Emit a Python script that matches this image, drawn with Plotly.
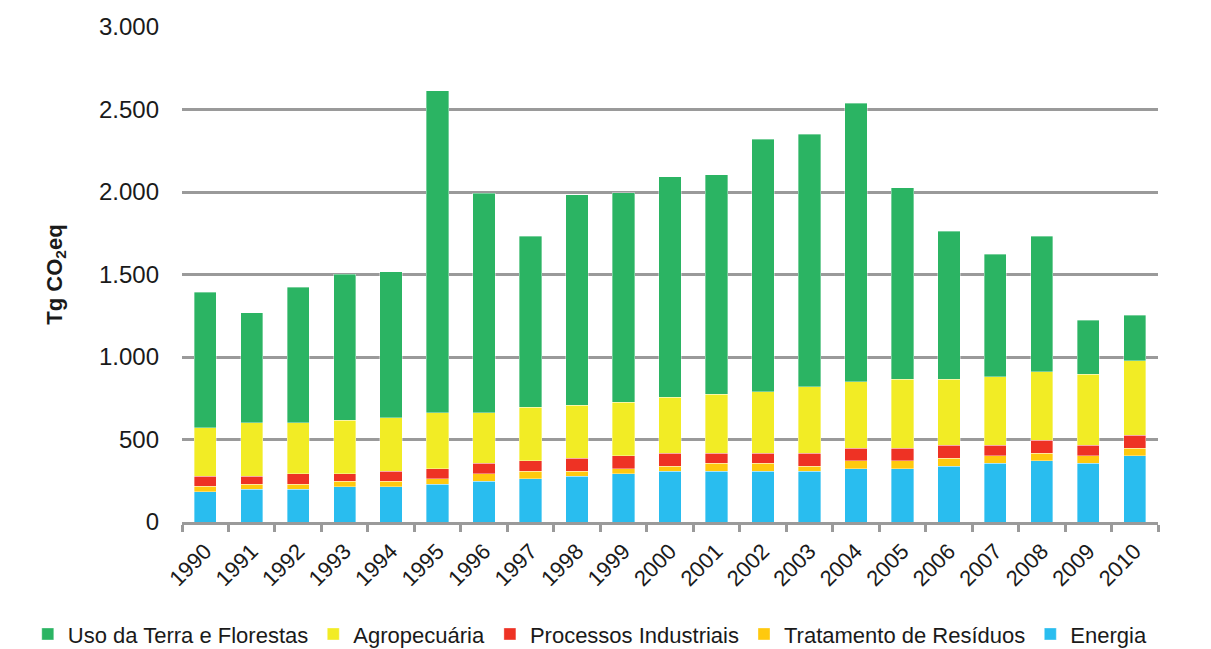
import plotly.graph_objects as go

years = [str(y) for y in range(1990, 2011)]

energia = [184, 200, 200, 214, 214, 230, 247, 261, 277, 293, 309, 309, 309, 309, 323, 323, 339, 356, 370, 356, 402]
residuos = [32, 30, 30, 33, 33, 31, 46, 48, 32, 30, 30, 47, 47, 30, 47, 47, 47, 46, 46, 46, 45]
processos = [61, 47, 63, 46, 62, 62, 63, 61, 77, 79, 77, 60, 60, 77, 77, 77, 79, 63, 79, 63, 78]
agro = [294, 325, 309, 325, 323, 339, 306, 325, 323, 323, 340, 358, 372, 404, 403, 418, 400, 416, 416, 432, 451]
uso_terra = [821, 666, 822, 883, 885, 1952, 1330, 1038, 1273, 1271, 1335, 1331, 1533, 1531, 1687, 1161, 898, 743, 822, 327, 277]

series = [
    ("Energia", energia, "#29BDEF"),
    ("Tratamento de Resíduos", residuos, "#FFC90E"),
    ("Processos Industriais", processos, "#EE3224"),
    ("Agropecuária", agro, "#F2EC25"),
    ("Uso da Terra e Florestas", uso_terra, "#2BB463"),
]

fig = go.Figure()
for name, vals, col in series:
    fig.add_trace(go.Bar(
        x=years, y=vals, name=name,
        marker=dict(color=col, line=dict(color="rgba(255,255,255,0.6)", width=0.6)),
    ))

FONT = "Arial, Liberation Sans, sans-serif"
fig.update_layout(
    barmode="stack",
    bargap=0.52,
    width=1203, height=641,
    margin=dict(l=174, r=53, t=19, b=127, autoexpand=False),
    paper_bgcolor="white", plot_bgcolor="white",
    separators=",.",
    font=dict(family=FONT, size=24, color="#1a1a1a"),
    showlegend=True,
    legend=dict(
        orientation="h", traceorder="reversed",
        x=-0.158, xanchor="left", y=-0.269, yanchor="bottom",
        font=dict(size=22, family=FONT, color="#1a1a1a"),
        itemwidth=30, tracegroupgap=0,
        bgcolor="rgba(0,0,0,0)",
    ),
    xaxis=dict(
        type="category", automargin=False,
        showline=True, linecolor="#9a9a9a", linewidth=2.5,
        ticks="outside", ticklen=7, tickwidth=2.5, tickcolor="#9a9a9a",
        tickson="boundaries",
        tickangle=-45, ticklabelstandoff=5,
        tickfont=dict(size=22, family=FONT, color="#1a1a1a"),
        showgrid=False,
    ),
    yaxis=dict(
        range=[0, 3000], dtick=500, tickformat=",d", automargin=False,
        showgrid=True, gridcolor="#9a9a9a", gridwidth=2.5,
        showline=False, zeroline=False,
        ticks="", ticklabelstandoff=22,
        tickfont=dict(size=24, family=FONT, color="#1a1a1a"),
        title=dict(text="<b>Tg CO<sub>2</sub>eq</b>", font=dict(size=22, family=FONT, color="#1a1a1a"), standoff=30),
    ),
)

fig.write_html("out.html")
